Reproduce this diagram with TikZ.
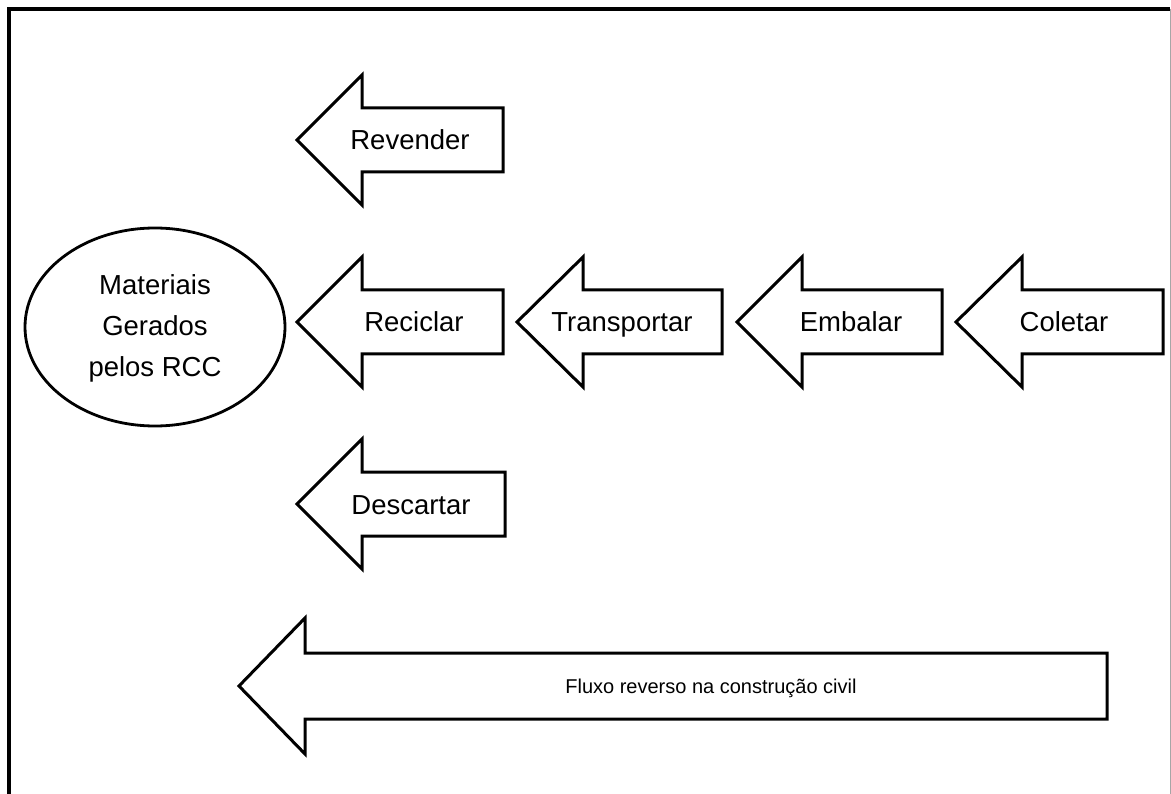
\documentclass[tikz,border=0pt]{standalone}
\usepackage{fontspec}
\setmainfont{Liberation Sans}
\begin{document}
\begin{tikzpicture}[x=1pt,y=-1pt,
  shapeline/.style={draw=black,line width=3pt,line join=miter,fill=white},
  lbl/.style={font=\fontsize{27.5}{41}\selectfont,inner sep=0pt,anchor=base},
  smalllbl/.style={font=\fontsize{20}{24}\selectfont,inner sep=0pt,anchor=base}]
\useasboundingbox (0,0) rectangle (1171,794);
% frame
\draw[line width=3.2pt] (9,800) -- (9,9) -- (1170,9);
\draw[line width=1pt,draw=gray!70] (1170,9) -- (1170,800);
% arrow macro: tip x, head base x, right x, centre y, head half, shaft half
\newcommand{\leftarrowshape}[6]{%
  \draw[shapeline] (#1,#4) -- (#2,#4-#5) -- (#2,#4-#6) -- (#3,#4-#6) -- (#3,#4+#6) -- (#2,#4+#6) -- (#2,#4+#5) -- cycle;}
\leftarrowshape{297}{362}{503}{140}{65}{32}
\leftarrowshape{297}{362}{503}{322}{65}{32}
\leftarrowshape{517}{583}{722}{322}{65}{32}
\leftarrowshape{737}{802}{942}{322}{65}{32}
\leftarrowshape{956}{1022}{1163}{322}{65}{32}
\leftarrowshape{297}{362}{505}{504}{65}{32}
\leftarrowshape{239}{305}{1107}{686}{68}{33}
% ellipse
\draw[line width=2.8pt] (155,327) ellipse [x radius=130, y radius=99];
\node[lbl,align=center] (mat) at (155,377) {Materiais\\Gerados\\pelos RCC};
\node[lbl] (rev) at (410,150) {Revender};
\node[lbl] (rec) at (414,332) {Reciclar};
\node[lbl] (tra) at (622,332) {Transportar};
\node[lbl] (emb) at (851,332) {Embalar};
\node[lbl] (col) at (1064,332) {Coletar};
\node[lbl] (des) at (411,514) {Descartar};
\node[smalllbl] (flu) at (711,693) {Fluxo reverso na construção civil};
\end{tikzpicture}
\end{document}
